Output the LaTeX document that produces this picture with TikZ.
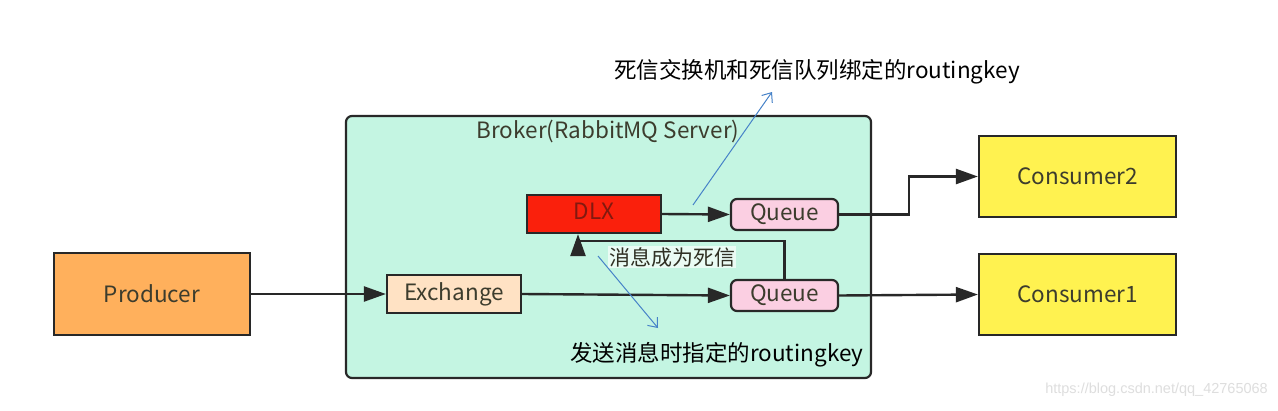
\documentclass[tikz,border=0pt]{standalone}
\usepackage{fontspec}
\setmainfont{Noto Sans CJK SC}
\newfontfamily\wmfont{Liberation Sans}
\usetikzlibrary{arrows.meta,calc}
\definecolor{linec}{RGB}{40,40,40}
\definecolor{txtc}{RGB}{60,60,45}
\definecolor{prodc}{RGB}{255,176,92}
\definecolor{brokc}{RGB}{196,245,226}
\definecolor{exc}{RGB}{255,226,196}
\definecolor{dlxc}{RGB}{250,32,12}
\definecolor{dlxt}{RGB}{130,25,15}
\definecolor{queuec}{RGB}{251,207,226}
\definecolor{consc}{RGB}{255,242,80}
\definecolor{bluec}{RGB}{70,130,200}
\definecolor{wmc}{RGB}{222,222,222}
\tikzset{
  box/.style={draw=linec, line width=2.2pt, text=txtc, font=\fontsize{22.5}{26}\selectfont, inner sep=0pt, anchor=center},
  arr/.style={draw=linec, line width=2.4pt, -{Triangle[length=22pt,width=15pt]}},
  note/.style={-{Straight Barb[length=8pt,width=13pt,line width=1pt]}, draw=bluec, line width=1pt},
  cjktext/.style={text=black, font=\fontsize{22.5}{26}\selectfont, inner sep=0pt},
}
\begin{document}
\begin{tikzpicture}[x=1pt,y=-1pt]
\useasboundingbox (0,0) rectangle (1278,410);
\fill[white] (0,0) rectangle (1278,410);
% broker
\node[box, fill=brokc, rounded corners=6pt, minimum width=525pt, minimum height=262pt] (broker) at (608.5,247) {};
\node[text=txtc, font=\fontsize{22.5}{26}\selectfont, inner sep=0pt] (blabel) at (608,131) {Broker(RabbitMQ Server)};
% boxes
\node[box, fill=prodc, minimum width=196pt, minimum height=82pt] (prod) at (152,294) {Producer};
\node[box, fill=exc, minimum width=134pt, minimum height=38pt] (ex) at (454,294) {\raisebox{4pt}{Exchange}};
\node[box, fill=dlxc, text=dlxt, minimum width=134pt, minimum height=38pt] (dlx) at (594,214) {\raisebox{5pt}{DLX}};
\node[box, fill=queuec, rounded corners=6pt, minimum width=107pt, minimum height=31pt] (uq) at (784.5,214.5) {Queue};
\node[box, fill=queuec, rounded corners=6pt, minimum width=107pt, minimum height=31pt] (lq) at (784.5,295.5) {Queue};
\node[box, fill=consc, minimum width=197pt, minimum height=81pt] (c2) at (1077.5,176.5) {Consumer2};
\node[box, fill=consc, minimum width=197pt, minimum height=81pt] (c1) at (1077.5,294.5) {Consumer1};
% connectors
\draw[arr] (prod.east) -- (ex.west);
\draw[arr] (ex.east) -- (lq.west);
\draw[arr] (lq.east) -- (c1.west);
\draw[arr] (dlx.east) -- (uq.west);
\draw[arr] (uq.east) -- ([xshift=70pt]uq.east) |- (c2.west);
\draw[arr] (lq.north) -- ++(0,-38) -| ([xshift=-16pt]dlx.south);
% dead-letter label
\node[fill=white, fill opacity=0.65, text opacity=1, text=txtc!80!black, font=\fontsize{21}{24}\selectfont, inner sep=1pt] (dead) at (672,257) {消息成为死信};
% blue annotation arrows
\coordinate (b1s) at (693,205);
\coordinate (b1e) at (772,92);
\coordinate (b2s) at (598,256);
\coordinate (b2e) at (658,328);
\draw[note] (b1s) -- (b1e);
\draw[note] (b2s) -- (b2e);
% annotation texts
\node[cjktext, anchor=west] (t1) at (614,72) {死信交换机和死信队列绑定的routingkey};
\node[cjktext, anchor=west] (t2) at (570,355) {发送消息时指定的routingkey};
% watermark
\node[text=wmc, font=\wmfont\fontsize{14.5}{16}\selectfont, anchor=east, inner sep=0pt] (wm) at (1268,390) {https://blog.csdn.net/qq\_42765068};
\end{tikzpicture}
\end{document}
